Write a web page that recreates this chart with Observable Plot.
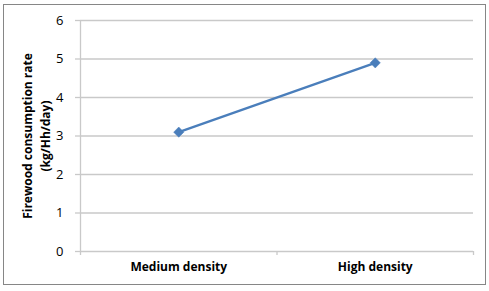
<!DOCTYPE html>
<html>
<head>
<meta charset="utf-8">
<script src="https://cdn.jsdelivr.net/npm/d3@7"></script>
<script src="https://cdn.jsdelivr.net/npm/@observablehq/plot@0.6"></script>
<style>
  html, body { margin: 0; padding: 0; background: #fff; }
  #wrap { position: relative; width: 489px; height: 291px; }
  #border { position: absolute; left: 3px; top: 4px; width: 481px; height: 279px; border: 1px solid #868686; pointer-events: none; }
</style>
</head>
<body>
<div id="wrap"><div id="border"></div></div>
<script>
const categories = ["Medium density", "High density"];
const values = [3.1, 4.9];
const yTicks = [0, 1, 2, 3, 4, 5, 6];
const yTitle = "Firewood consumption rate\n(kg/Hh/day)";

const data = categories.map((c, i) => ({category: c, pos: i + 0.5, value: values[i]}));
const edges = d3.range(categories.length + 1);
const font = "'Open Sans', sans-serif";
const grid = "#c9c9c9";
const blue = "#4a7ebb";
const diamond = d3.symbolDiamond2 || "diamond";

const chart = Plot.plot({
  width: 489,
  height: 291,
  marginLeft: 80,
  marginRight: 16,
  marginTop: 20,
  marginBottom: 40,
  style: {fontFamily: font, background: "transparent", overflow: "visible"},
  x: {domain: [0, categories.length], axis: null},
  y: {domain: [0, 6], axis: null},
  marks: [
    Plot.ruleY(yTicks, {stroke: grid, strokeWidth: 1.3}),
    Plot.ruleX([0], {stroke: grid, strokeWidth: 1.3}),
    Plot.axisY({ticks: yTicks, tickSize: 5, tickPadding: 12, stroke: grid, strokeWidth: 1.3, fontSize: 13, fill: "#000", color: "#000", label: null, tickFormat: d3.format("d")}),
    Plot.axisX({ticks: edges, tickSize: 4, stroke: grid, strokeWidth: 1.3, tickFormat: () => "", label: null}),
    Plot.axisX({ticks: data.map(d => d.pos), tickSize: 0, tickPadding: 11, fontSize: 12, fontWeight: "bold", fill: "#000", color: "#000", label: null, tickFormat: (d) => categories[Math.floor(d)]}),
    Plot.text([yTitle], {frameAnchor: "left", rotate: -90, dx: -45, fontSize: 12, fontWeight: "bold", fill: "#000", lineHeight: 1.45, textAnchor: "middle"}),
    Plot.line(data, {x: "pos", y: "value", stroke: blue, strokeWidth: 2.3}),
    Plot.dot(data, {x: "pos", y: "value", symbol: diamond, r: 4.6, fill: blue, stroke: blue, strokeWidth: 0.5})
  ]
});
document.getElementById("wrap").insertBefore(chart, document.getElementById("border"));
</script>
</body>
</html>
